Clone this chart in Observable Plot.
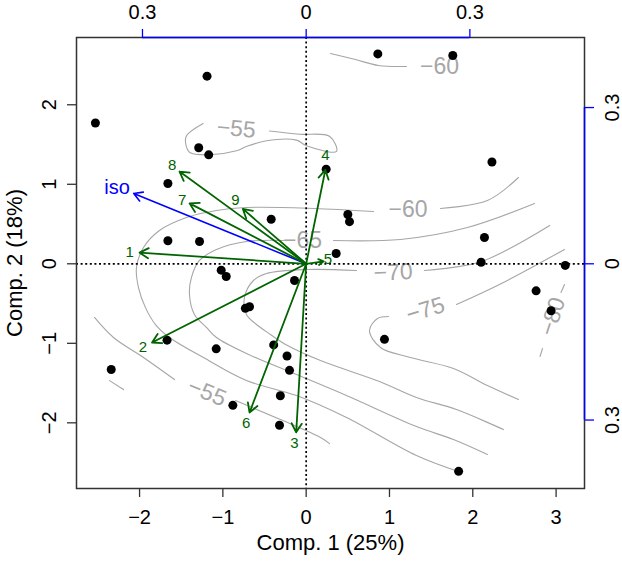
<!DOCTYPE html>
<html><head><meta charset="utf-8">
<script src="https://cdn.jsdelivr.net/npm/d3@7"></script>
<script src="https://cdn.jsdelivr.net/npm/@observablehq/plot@0.6"></script>
<style>
body{margin:0;background:#fff}
svg{font-family:"Liberation Sans",Arial,Helvetica,sans-serif}
</style>
</head><body><div id="chart"></div>
<script>
// ---- scores (observations) ----
const scoresX = [-2.53,-1.19,0.86,1.76,-1.29,-1.17,2.23,-1.66,0.24,-0.42,0.50,0.52,-1.66,-1.28,2.14,0.36,2.10,3.11,-1.02,-0.96,-0.14,-0.73,-0.68,-1.67,-1.08,-0.39,-0.23,-0.20,-2.34,-0.31,-0.88,-0.32,2.76,2.94,0.94,1.83];
const scoresY = [1.77,2.36,2.64,2.62,1.46,1.37,1.28,1.01,1.19,0.56,0.62,0.53,0.29,0.28,0.33,0.13,0.02,-0.02,-0.08,-0.16,-0.21,-0.56,-0.54,-0.96,-1.07,-1.02,-1.16,-1.34,-1.33,-1.66,-1.78,-2.03,-0.34,-0.59,-0.95,-2.61];

// ---- variable arrows (tips, biplot units) ----
const varNames = ["1","2","3","4","5","6","7","8","9"];
const varX = [-2.00,-1.85,-0.12,0.23,0.21,-0.68,-1.40,-1.52,-0.76];
const varY = [0.14,-0.99,-2.12,1.18,0.03,-1.87,0.76,1.16,0.69];
const varLabelX = [-2.12,-1.96,-0.14,0.23,0.26,-0.72,-1.49,-1.61,-0.85];
const varLabelY = [0.14,-1.05,-2.25,1.36,0.06,-2.00,0.80,1.24,0.80];
const isoName = "iso";
const isoX = -2.07, isoY = 0.885;
const isoLabelX = -2.27, isoLabelY = 0.956;

// ---- axes ----
const xlim = [-2.757, 3.341];
const ylim = [-2.826, 2.846];
const xTicks = [-2,-1,0,1,2,3];
const xTickLabels = ["\u22122","\u22121","0","1","2","3"];
const yTicks = [-2,-1,0,1,2];
const yTickLabels = ["\u22122","\u22121","0","1","2"];
const loadScale = 6.55;            // biplot units per loading unit
const loadTicks = [-0.3, 0, 0.3];
const loadTickLabels = ["0.3","0","0.3"];
const rightTicks = [0.3, 0, -0.3];
const rightTickLabels = ["0.3","0","0.3"];
const xTitle = "Comp. 1 (25%)";
const yTitle = "Comp. 2 (18%)";

// ---- contour pieces ----
const contour55Upper = [[-1.237,1.765],[-1.437,1.610],[-1.445,1.504],[-1.397,1.400],[-1.157,1.371],[-0.837,1.421],[-0.717,1.475],[-0.477,1.547],[-0.116,1.555],[0.004,1.484],[0.364,1.413],[0.283,1.601],[-0.080,1.630],[-0.440,1.671]];
const contour60Top = [[0.292,2.645],[0.592,2.569],[0.868,2.494],[1.204,2.482]];
const contour60Right = [[2.548,1.085],[2.176,0.796],[1.612,0.696]];
const contour60Left = [[0.808,0.658],[0.088,0.696],[-0.717,0.708],[-1.077,0.670],[-1.437,0.582],[-1.761,0.419],[-1.953,0.205],[-2.037,-0.047],[-2.013,-0.299],[-1.929,-0.551],[-1.809,-0.764],[-1.641,-0.927],[-1.233,-1.179],[-0.717,-1.468],[-0.116,-1.657],[0.484,-1.933],[1.324,-2.412],[1.828,-2.613]];
const contour65Right = [[2.741,0.758],[1.936,0.456],[1.132,0.306],[0.328,0.293]];
const contour65Left = [[-0.273,0.293],[-0.717,0.280],[-1.077,0.180],[-1.281,0.042],[-1.377,-0.172],[-1.401,-0.386],[-1.341,-0.638],[-1.197,-0.801],[-1.077,-0.927],[-0.717,-1.128],[-0.116,-1.393],[0.484,-1.657],[1.324,-2.047],[1.768,-2.210],[2.176,-2.399]];
const contour70Right = [[2.923,0.482],[2.104,0.029],[1.420,-0.084]];
const contour70Left = [[0.604,-0.084],[0.004,-0.072],[-0.477,-0.122],[-0.633,-0.210],[-0.741,-0.424],[-0.717,-0.638],[-0.597,-0.764],[-0.429,-0.889],[-0.224,-1.028],[0.172,-1.217],[0.880,-1.481],[1.324,-1.682],[1.804,-1.833],[2.368,-2.085]];
const contour75Right = [[3.101,0.180],[2.320,-0.260],[1.804,-0.512]];
const contour75Left = [[0.988,-0.663],[0.856,-0.688],[0.760,-0.839],[0.892,-1.053],[1.252,-1.179],[1.768,-1.317],[2.176,-1.531],[2.548,-1.707]];
const contour80Upper = [[3.059,-0.361],[3.101,-0.261]];
const contour80Lower = [[2.837,-1.065],[2.807,-1.166]];
const contour55LowerLeft = [[-2.541,-0.675],[-2.313,-0.927],[-1.953,-1.179],[-1.581,-1.456]];
const contour55LowerRight = [[-0.849,-1.720],[-0.309,-1.959],[0.172,-2.185],[0.280,-2.261]];
const contour50Bit = [[-2.361,-1.469],[-2.193,-1.582]];

const contourLabelText = ["\u221255","\u221260","\u221260","\u221265","\u221270","\u221275","\u221280","\u221255"];
const contourLabelX = [-0.839,1.600,1.222,-0.044,1.044,1.432,2.957,-1.191];
const contourLabelY = [1.698,2.482,0.679,0.289,-0.109,-0.579,-0.663,-1.619];
const contourLabelAngle = [5,0,0,0,-3,-17,-72,22];

// ---- build tables ----
const scores = scoresX.map((x,i)=>({x, y: scoresY[i]}));
const vars = varNames.map((n,i)=>({name:n, x:varX[i], y:varY[i], lx:varLabelX[i], ly:varLabelY[i]}));
const pieces = [contour55Upper,contour60Top,contour60Right,contour60Left,contour65Right,contour65Left,contour70Right,contour70Left,contour75Right,contour75Left,contour80Upper,contour80Lower,contour55LowerLeft,contour55LowerRight,contour50Bit];
const contourRows = pieces.flatMap((p,k)=>p.map(([x,y])=>({x,y,piece:k})));
const contourLabels = contourLabelText.map((t,i)=>({t, x:contourLabelX[i], y:contourLabelY[i], a:contourLabelAngle[i]}));
const topPos = loadTicks.map(t=>t*loadScale);
const rightPos = rightTicks.map(t=>t*loadScale);

const green = "#006400", blue = "#0000ff", gray = "#a6a6a6", frameCol = "#333";

const chart = Plot.plot({
  width: 622, height: 561,
  marginLeft: 76, marginRight: 38, marginTop: 37, marginBottom: 73,
  x: {domain: xlim, axis: null},
  y: {domain: ylim, axis: null},
  style: {fontFamily: '"Liberation Sans", Arial, Helvetica, sans-serif', background: "white", overflow: "visible"},
  marks: [
    Plot.line(contourRows, {x:"x", y:"y", z:"piece", stroke: gray, strokeWidth: 1.1, curve: "catmull-rom"}),
    Plot.text(contourLabels, {x:"x", y:"y", text:"t", rotate:"a", fill: gray, fontSize: 23, textAnchor:"middle", lineAnchor:"middle"}),
    Plot.ruleX([0], {stroke:"black", strokeWidth:1.7, strokeDasharray:"2,2.6"}),
    Plot.ruleY([0], {stroke:"black", strokeWidth:1.7, strokeDasharray:"2,2.6"}),
    Plot.dot(scores, {x:"x", y:"y", r:4.5, fill:"black", stroke:null}),
    Plot.arrow([{x:isoX, y:isoY}], {x1:()=>0, y1:()=>0, x2:"x", y2:"y", stroke: blue, strokeWidth:1.6, headLength:9}),
    Plot.arrow(vars, {x1:()=>0, y1:()=>0, x2:"x", y2:"y", stroke: green, strokeWidth:1.8, headLength:8.5}),
    Plot.text(vars, {x:"lx", y:"ly", text:"name", fill: green, fontSize: 15, textAnchor:"middle", lineAnchor:"middle"}),
    Plot.text([isoName], {x:()=>isoLabelX, y:()=>isoLabelY, text:d=>d, fill: blue, fontSize: 20, textAnchor:"middle", lineAnchor:"middle"}),
    Plot.frame({stroke: frameCol, strokeWidth: 1.5}),
    // bottom axis
    Plot.axisX(xTicks, {anchor:"bottom", tickSize:9, tickPadding:12, fontSize:20, label:null, stroke:frameCol, fill:"black", strokeWidth:1.3, tickFormat:(d)=>xTickLabels[xTicks.indexOf(d)]}),
    // left axis ticks + labels
    Plot.axisY(yTicks, {anchor:"left", tickSize:9, label:null, stroke:frameCol, strokeWidth:1.3, tickFormat:()=>""}),
    Plot.text(yTicks, {y:d=>d, frameAnchor:"left", dx:-21, rotate:-90, text:(d)=>yTickLabels[yTicks.indexOf(d)], fontSize:20, fill:"black", textAnchor:"middle", lineAnchor:"bottom"}),
    // top (loadings) axis
    Plot.ruleY([ylim[1]], {x1:topPos[0], x2:topPos[2], stroke:blue, strokeWidth:1.5}),
    Plot.axisX(topPos, {anchor:"top", tickSize:9, tickPadding:10, fontSize:20, label:null, stroke:blue, fill:"black", strokeWidth:1.3, tickFormat:(d)=>loadTickLabels[topPos.indexOf(d)]}),
    // right (loadings) axis
    Plot.ruleX([xlim[1]], {y1:rightPos[0], y2:rightPos[2], stroke:blue, strokeWidth:1.5}),
    Plot.axisY(rightPos, {anchor:"right", tickSize:9, label:null, stroke:blue, strokeWidth:1.3, tickFormat:()=>""}),
    Plot.text(rightPos, {y:d=>d, frameAnchor:"right", dx:34, rotate:-90, text:(d)=>rightTickLabels[rightPos.indexOf(d)], fontSize:20, fill:"black", textAnchor:"middle", lineAnchor:"bottom"}),
    // titles
    Plot.text([xTitle], {frameAnchor:"bottom", dy:61, text:d=>d, fontSize:22, fill:"black", textAnchor:"middle", lineAnchor:"bottom"}),
    Plot.text([yTitle], {frameAnchor:"left", dx:-55, rotate:-90, text:d=>d, fontSize:22, fill:"black", textAnchor:"middle", lineAnchor:"bottom"})
  ]
});
document.getElementById("chart").appendChild(chart);
</script>
</body></html>
